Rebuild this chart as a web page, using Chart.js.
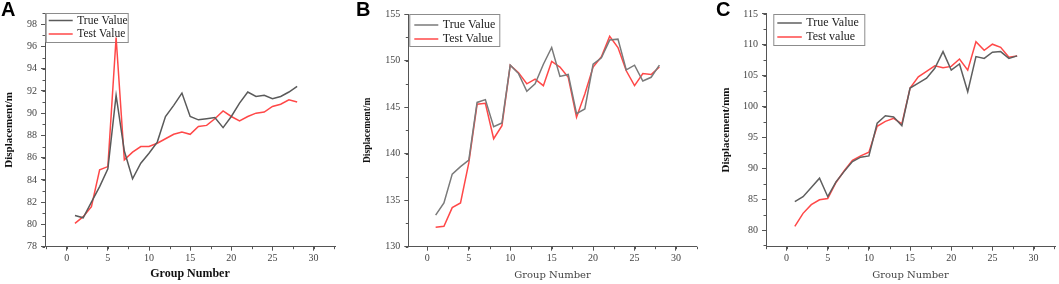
<!DOCTYPE html>
<html>
<head>
<meta charset="utf-8">
<script src="https://cdn.jsdelivr.net/npm/chart.js@4.4.0/dist/chart.umd.min.js"></script>
<style>
  body { margin: 0; background: #fff; width: 1059px; height: 284px; position: relative; overflow: hidden; }
  canvas { position: absolute; top: 0; }
  .tag { position: absolute; top: -2px; font: bold 20px "Liberation Sans", Arial, sans-serif; color: #000; }
</style>
</head>
<body>
<canvas id="chartA" width="345" height="284" style="left:0"></canvas>
<canvas id="chartB" width="355" height="284" style="left:345px"></canvas>
<canvas id="chartC" width="359" height="284" style="left:700px"></canvas>
<div class="tag" style="left:1px">A</div>
<div class="tag" style="left:356px">B</div>
<div class="tag" style="left:716px">C</div>
<script>
// group numbers shared by all three panels
const groupNumbers = [1, 2, 3, 4, 5, 6, 7, 8, 9, 10, 11, 12, 13, 14, 15, 16, 17, 18, 19, 20, 21, 22, 23, 24, 25, 26, 27, 28];

// panel A
const trueA = [80.8, 80.6, 82.0, 83.4, 85.0, 91.6, 86.6, 84.1, 85.5, 86.4, 87.4, 89.7, 90.7, 91.8,
               89.7, 89.4, 89.5, 89.6, 88.7, 89.7, 90.9, 91.9, 91.5, 91.6, 91.3, 91.5, 91.9, 92.4];
const testA = [80.1, 80.7, 81.6, 84.9, 85.2, 96.8, 85.8, 86.5, 87.0, 87.0, 87.3, 87.7, 88.1, 88.3,
               88.1, 88.8, 88.9, 89.5, 90.2, 89.7, 89.3, 89.7, 90.0, 90.1, 90.6, 90.8, 91.2, 91.0];

// panel B
const trueB = [133.4, 134.7, 137.8, 138.6, 139.3, 145.5, 145.8, 142.9, 143.3, 149.5, 148.6, 146.7, 147.5, 149.6,
               151.4, 148.3, 148.5, 144.3, 144.8, 149.6, 150.3, 152.2, 152.3, 149.0, 149.5, 147.8, 148.2, 149.5];
const testB = [132.1, 132.2, 134.2, 134.7, 139.0, 145.3, 145.4, 141.6, 143.0, 149.5, 148.7, 147.5, 148.0, 147.3,
               149.9, 149.3, 148.2, 143.9, 146.4, 149.3, 150.4, 152.6, 151.4, 148.9, 147.3, 148.6, 148.5, 149.3];

// panel C
const trueC = [84.6, 85.4, 86.9, 88.4, 85.4, 87.8, 89.5, 91.1, 91.8, 92.0, 97.3, 98.5, 98.3, 96.9,
               103.0, 103.8, 104.6, 106.2, 108.9, 105.9, 106.9, 102.4, 108.1, 107.8, 108.8, 108.9, 107.8, 108.2];
const testC = [80.6, 82.7, 84.1, 84.9, 85.1, 87.7, 89.6, 91.3, 92.0, 92.6, 96.8, 97.6, 98.1, 97.2,
               103.0, 104.8, 105.7, 106.6, 106.3, 106.5, 107.7, 105.9, 110.5, 109.1, 110.1, 109.6, 108.0, 108.2];

const xTickValues = [0, 5, 10, 15, 20, 25, 30];

const SERIF = '"Liberation Serif", "Times New Roman", serif';

// short ticks between the labelled ones, drawn through the chart's own scales
const minorTicks = {
  id: 'minorTicks',
  afterDraw(chart, args, opts) {
    const { ctx, chartArea, scales } = chart;
    ctx.save();
    ctx.strokeStyle = '#555';
    ctx.lineWidth = 1;
    ctx.beginPath();
    const xs = scales.x;
    for (let v = Math.ceil(xs.min / opts.xStep) * opts.xStep; v <= xs.max; v += opts.xStep) {
      const px = Math.round(xs.getPixelForValue(v)) + 0.5;
      ctx.moveTo(px, chartArea.bottom);
      ctx.lineTo(px, chartArea.bottom + 2.5);
    }
    const ys = scales.y;
    for (let v = Math.ceil(ys.min / opts.yStep) * opts.yStep; v <= ys.max + 1e-9; v += opts.yStep) {
      const py = Math.round(ys.getPixelForValue(v)) + 0.5;
      ctx.moveTo(chartArea.left, py);
      ctx.lineTo(chartArea.left - 2.5, py);
    }
    ctx.stroke();
    ctx.restore();
  }
};

// Origin-style legend box sitting in the top-left corner of the plot
const boxLegend = {
  id: 'boxLegend',
  beforeDatasetsDraw(chart, args, opts) {
    const { ctx, chartArea } = chart;
    const x0 = chartArea.left + opts.dx;
    const y0 = chartArea.top + opts.dy;
    ctx.save();
    ctx.fillStyle = '#fff';
    ctx.fillRect(x0, y0, opts.width, opts.height);
    ctx.strokeStyle = '#8c8c8c';
    ctx.lineWidth = 1;
    ctx.strokeRect(x0 + 0.5, y0 + 0.5, opts.width, opts.height);
    ctx.font = opts.font;
    ctx.textBaseline = 'middle';
    chart.data.datasets.forEach((ds, i) => {
      const y = y0 + opts.rows[i];
      ctx.strokeStyle = ds.borderColor;
      ctx.lineWidth = 1.5;
      ctx.beginPath();
      ctx.moveTo(x0 + opts.lineFrom, y);
      ctx.lineTo(x0 + opts.lineTo, y);
      ctx.stroke();
      ctx.fillStyle = '#222';
      ctx.fillText(opts.labels[i], x0 + opts.textX, y);
    });
    ctx.restore();
  }
};

function makePanel(id, trueVals, testVals, cfg) {
  const toPoints = vals => groupNumbers.map((g, i) => ({ x: g, y: vals[i] }));
  return new Chart(document.getElementById(id), {
    type: 'line',
    data: {
      datasets: [
        { label: 'True Value', data: toPoints(trueVals), borderColor: cfg.grey, borderWidth: 1.5,
          pointRadius: 0, tension: 0 },
        { label: cfg.testLabel, data: toPoints(testVals), borderColor: '#ff4848', borderWidth: 1.5,
          pointRadius: 0, tension: 0 }
      ]
    },
    options: {
      responsive: false,
      animation: false,
      layout: { padding: { top: cfg.top, right: cfg.right, left: 0, bottom: 0 } },
      plugins: {
        legend: { display: false },
        tooltip: { enabled: false },
        minorTicks: { xStep: 2.5, yStep: cfg.yMinor },
        boxLegend: cfg.legend
      },
      scales: {
        x: {
          type: 'linear',
          min: cfg.xMin,
          max: cfg.xMax,
          afterFit: s => { s.height = 37.3; },
          afterBuildTicks: s => { s.ticks = xTickValues.map(v => ({ value: v })); },
          grid: { drawOnChartArea: false, drawTicks: true, tickLength: 4, tickColor: '#555' },
          border: { display: true, color: '#555', width: 1 },
          ticks: { color: '#444', font: { family: SERIF, size: 10 }, padding: 2, maxRotation: 0 },
          title: { display: true, text: 'Group Number', color: cfg.xTitleColor,
                   font: cfg.xTitleFont, padding: { top: 0, bottom: 2.4 } }
        },
        y: {
          min: cfg.yMin,
          max: cfg.yMax,
          afterFit: s => { s.width = cfg.left; },
          afterBuildTicks: s => { s.ticks = cfg.yTicks.map(v => ({ value: v })); },
          grid: { drawOnChartArea: false, drawTicks: true, tickLength: 4, tickColor: '#555' },
          border: { display: true, color: '#555', width: 1 },
          ticks: { color: '#444', font: { family: SERIF, size: 10 }, padding: 4 },
          title: { display: true, text: cfg.yTitle, color: '#111',
                   font: { family: SERIF, size: cfg.yTitleSize, weight: 'bold' },
                   padding: { top: cfg.yTitlePad, bottom: 0 } }
        }
      }
    },
    plugins: [boxLegend, minorTicks]
  });
}

makePanel('chartA', trueA, testA, {
  grey: '#5a5a5a', testLabel: 'Test Value',
  top: 13, right: 10, left: 45,
  xMin: -2.64, xMax: 32.6, yMin: 78, yMax: 99, yMinor: 1,
  yTicks: [78, 80, 82, 84, 86, 88, 90, 92, 94, 96, 98],
  yTitle: 'Displacement/m', yTitleSize: 11, yTitlePad: 2.4,
  xTitleColor: '#111', xTitleFont: { family: SERIF, size: 12, weight: 'bold' },
  legend: { dx: 0.7, dy: 0, width: 82, height: 29, rows: [7.5, 21], lineFrom: 3, lineTo: 27,
            textX: 31.5, font: '11.5px ' + SERIF, labels: ['True Value', 'Test Value'] }
});

makePanel('chartB', trueB, testB, {
  grey: '#7a7a7a', testLabel: 'Test Value',
  top: 14, right: 3.3, left: 63.3,
  xMin: -2.3, xMax: 32.5, yMin: 130, yMax: 155, yMinor: 2.5,
  yTicks: [130, 135, 140, 145, 150, 155],
  yTitle: 'Displacement/m', yTitleSize: 9.5, yTitlePad: 17,
  xTitleColor: '#444', xTitleFont: { family: '"DejaVu Serif", serif', size: 10, weight: 'normal' },
  legend: { dx: 1, dy: 0, width: 90, height: 32, rows: [11, 25], lineFrom: 5, lineTo: 29,
            textX: 33.5, font: '12px ' + SERIF, labels: ['True Value', 'Test Value'] }
});

makePanel('chartC', trueC, testC, {
  grey: '#5f5f5f', testLabel: 'Test value',
  top: 13.3, right: 4, left: 66,
  xMin: -2.5, xMax: 32.6, yMin: 77.3, yMax: 115.1, yMinor: 2.5,
  yTicks: [80, 85, 90, 95, 100, 105, 110, 115],
  yTitle: 'Displacement/mm', yTitleSize: 11, yTitlePad: 20,
  xTitleColor: '#444', xTitleFont: { family: '"DejaVu Serif", serif', size: 10, weight: 'normal' },
  legend: { dx: 7.3, dy: 0.7, width: 91, height: 31, rows: [9, 23], lineFrom: 4, lineTo: 28.5,
            textX: 33, font: '12px ' + SERIF, labels: ['True Value', 'Test value'] }
});
</script>
</body>
</html>
